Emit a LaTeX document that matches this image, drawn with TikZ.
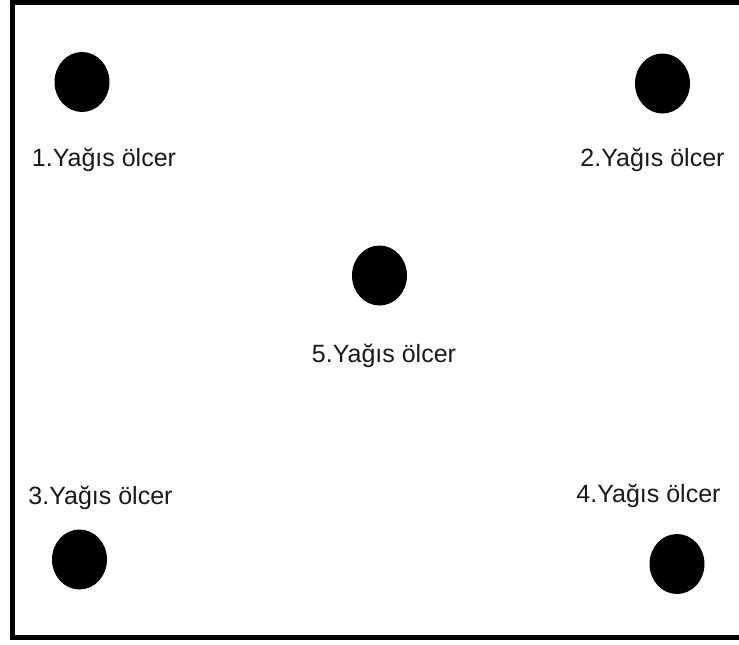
\documentclass[tikz,border=0pt]{standalone}
\usepackage{fontspec}
\setmainfont{Liberation Sans}
\usetikzlibrary{shapes.geometric}
\begin{document}
\begin{tikzpicture}[x=1pt,y=-1pt,
  gauge/.style={ellipse,fill=black,draw=none,inner sep=0pt,minimum width=55pt,minimum height=60pt},
  lbl/.style={anchor=base,inner sep=0pt,text=black!90,font=\fontsize{25}{29}\selectfont}]
\useasboundingbox (0,0) rectangle (739,645);
\begin{scope}
\clip (0,0) rectangle (739,645);
\draw[line width=5pt] (12,2) rectangle (760,637);
\end{scope}
\node[gauge] (g1) at (82,82) {};
\node[gauge] (g2) at (662.5,83.5) {};
\node[gauge] (g3) at (79.5,559.5) {};
\node[gauge] (g4) at (677,564) {};
\node[gauge] (g5) at (379.5,275.5) {};
\node[lbl] (l1) at (104,166.7) {1.Yağıs ölcer};
\node[lbl] (l2) at (652.5,166.7) {2.Yağıs ölcer};
\node[lbl] (l3) at (100.5,504.3) {3.Yağıs ölcer};
\node[lbl] (l4) at (648.5,502.7) {4.Yağıs ölcer};
\node[lbl] (l5) at (384,362.3) {5.Yağıs ölcer};
\end{tikzpicture}
\end{document}
